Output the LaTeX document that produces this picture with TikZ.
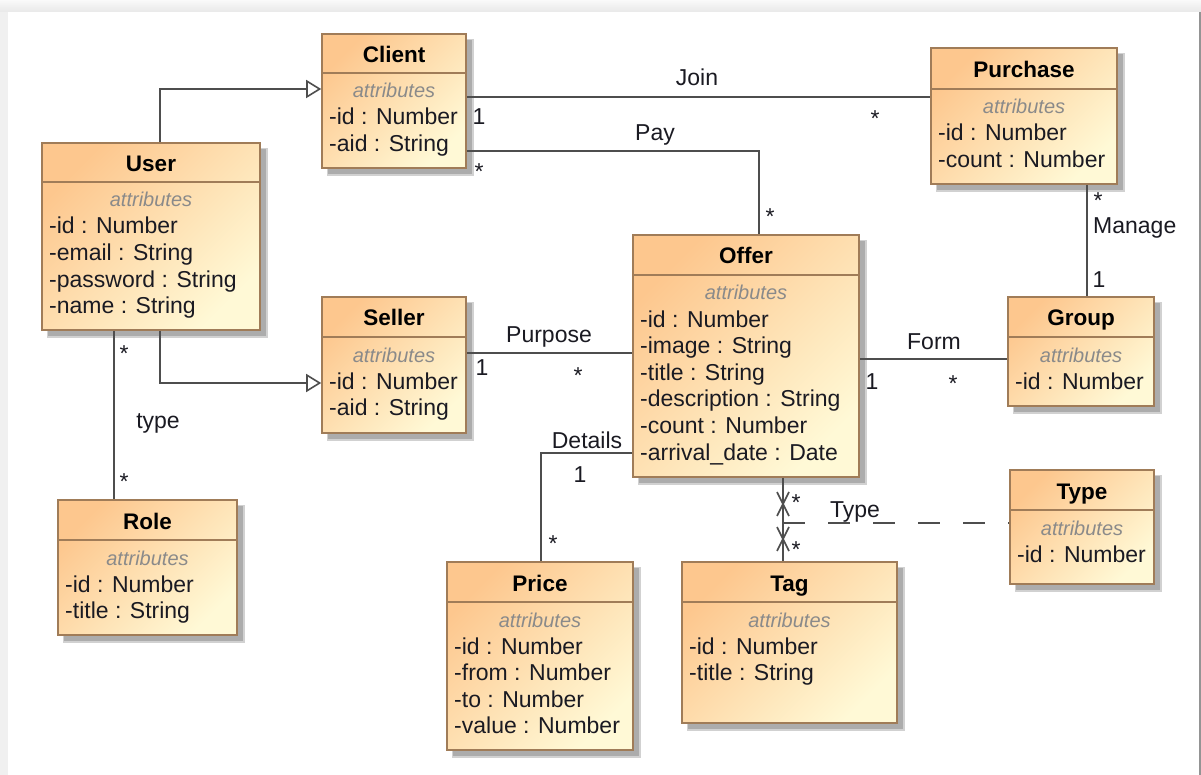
\documentclass[tikz,border=0pt]{standalone}
\usepackage{fontspec}
\setmainfont{Liberation Sans}
\usetikzlibrary{arrows.meta,fit}

\definecolor{boxA}{RGB}{253,199,142}
\definecolor{boxB}{RGB}{255,249,214}
\definecolor{boxline}{RGB}{160,124,88}
\definecolor{ink}{RGB}{26,26,34}
\definecolor{wire}{RGB}{78,78,78}
\definecolor{attrgray}{RGB}{138,138,138}
\definecolor{shadowc}{RGB}{172,172,172}

\tikzset{
  classbox/.style={draw=boxline, line width=1.6pt, top color=boxA, bottom color=boxB, shading angle=45, inner sep=0pt},
  sepline/.style={draw=boxline, line width=1.6pt},
  titletext/.style={inner sep=0pt, anchor=base, font=\fontsize{22.5}{27}\selectfont\bfseries, text=black},
  attrhead/.style={inner sep=0pt, anchor=base, font=\fontsize{20}{24}\selectfont\itshape, text=attrgray},
  attrtext/.style={inner sep=0pt, anchor=base west, font=\fontsize{23}{27}\selectfont, text=ink},
  lbl/.style={inner sep=0pt, anchor=base, font=\fontsize{23}{27}\selectfont, text=ink},
  wireline/.style={draw=wire, line width=1.6pt},
  genline/.style={wireline, -{Triangle[open, length=15pt, width=18pt, line width=1.6pt]}},
  dashwire/.style={wireline, dash pattern=on 22pt off 23pt},
}

% #1 name, #2 left, #3 top, #4 right, #5 bottom, #6 header rule, #7 title, #8 attributes
\newcommand\umlclass[8]{%
  \fill[shadowc!55] ({#2+5},{#3+5}) rectangle ({#4+8},{#5+8});
  \fill[shadowc] ({#2+6},{#3+6}) rectangle ({#4+6},{#5+6});
  \node[classbox, fit={(#2,#3) (#4,#5)}] (#1) {};
  \draw[sepline] (#2,#6) -- (#4,#6);
  \node[titletext] (#1-title) at ({(#2+#4)/2},{(#3+#6)/2+9}) {#7};
  \node[attrhead] (#1-head) at ({(#2+#4)/2},{#6+25}) {attributes};
  \foreach \attr [count=\k from 0] in {#8}
    \node[attrtext] (#1-a\k) at ({#2+7},{#6+52+26.6*\k}) {\attr};
}

\begin{document}
\begin{tikzpicture}[x=1pt, y=-1pt]
\useasboundingbox (0,0) rectangle (1201,775);

% canvas
\fill[black!6] (0,0) rectangle (1201,775);
\shade[top color=black!2, bottom color=black!9] (0,0) rectangle (1201,12);
\fill[white] (8,12) rectangle (1199,775);
\draw[black!42, line width=2pt] (1200,12) -- (1200,775);

% classes
\umlclass{client}{322}{34}{466}{168}{73}{Client}{-id : Number,-aid : String}
\umlclass{user}{42}{143}{260}{330}{182}{User}{-id : Number,-email : String,-password : String,-name : String}
\umlclass{purchase}{931}{48}{1117}{184}{89}{Purchase}{-id : Number,-count : Number}
\umlclass{seller}{322}{297}{466}{433}{337}{Seller}{-id : Number,-aid : String}
\umlclass{offer}{633}{235}{859}{477}{275}{Offer}{-id : Number,-image : String,-title : String,-description : String,-count : Number,-arrival\_date : Date}
\umlclass{group}{1008}{297}{1154}{406}{337}{Group}{-id : Number}
\umlclass{role}{58}{500}{237}{635}{540}{Role}{-id : Number,-title : String}
\umlclass{price}{447}{562}{633}{750}{602}{Price}{-id : Number,-from : Number,-to : Number,-value : Number}
\umlclass{tag}{682}{562}{897}{723}{602}{Tag}{-id : Number,-title : String}
\umlclass{type}{1010}{470}{1154}{584}{510}{Type}{-id : Number}

% routing guides
\coordinate (ux) at (160,0);
\coordinate (yuc) at (0,89);
\coordinate (yus) at (0,383);
\coordinate (rx) at (114,0);
\coordinate (yjoin) at (0,97);
\coordinate (ypay) at (0,151);
\coordinate (payx) at (759,0);
\coordinate (mx) at (1087,0);
\coordinate (ypur) at (0,353);
\coordinate (yform) at (0,359);
\coordinate (ydet) at (0,453);
\coordinate (detx) at (541,0);
\coordinate (tagx) at (783,0);
\coordinate (typemid) at (783,523);

% generalizations
\draw[genline] (user.north -| ux) |- (client.west |- yuc);
\draw[genline] (user.south -| ux) |- (seller.west |- yus);

% associations
\draw[wireline] (user.south -| rx) -- (role.north -| rx);
\draw[wireline] (client.east |- yjoin) -- (purchase.west |- yjoin);
\draw[wireline] (client.east |- ypay) -| (offer.north -| payx);
\draw[wireline] (purchase.south -| mx) -- (group.north -| mx);
\draw[wireline] (seller.east |- ypur) -- (offer.west |- ypur);
\draw[wireline] (offer.east |- yform) -- (group.west |- yform);
\draw[wireline] (offer.west |- ydet) -| (price.north -| detx);
\draw[wireline] (offer.south -| tagx) -- (tag.north -| tagx);
\draw[dashwire] (typemid) -- (type.west |- typemid);

% non-navigable end marks
\draw[wireline] (777,492) -- (789,516) (789,492) -- (777,516);
\draw[wireline] (777,527) -- (789,551) (789,527) -- (777,551);

% association names
\node[lbl] (lJoin) at (697,86) {Join};
\node[lbl] (lPay) at (655,141) {Pay};
\node[lbl, anchor=base west] (lManage) at (1093,234) {Manage};
\node[lbl] (lPurpose) at (549,342) {Purpose};
\node[lbl] (lForm) at (934,349) {Form};
\node[lbl] (lDetails) at (587,448) {Details};
\node[lbl] (ltype) at (158,428) {type};
\node[lbl] (lType) at (855,517) {Type};

% multiplicities
\node[lbl] (mJoinA) at (479,125) {1};
\node[lbl] (mJoinB) at (875,127) {*};
\node[lbl] (mPayA) at (479,180) {*};
\node[lbl] (mPayB) at (770,225) {*};
\node[lbl] (mManA) at (1098,209) {*};
\node[lbl] (mManB) at (1099,288) {1};
\node[lbl] (mPurA) at (482,375) {1};
\node[lbl] (mPurB) at (578,383) {*};
\node[lbl] (mFormA) at (872,389) {1};
\node[lbl] (mFormB) at (953,391) {*};
\node[lbl] (mDetA) at (580,482) {1};
\node[lbl] (mDetB) at (553,551) {*};
\node[lbl] (mRoleA) at (124,361) {*};
\node[lbl] (mRoleB) at (124,489) {*};
\node[lbl] (mTagA) at (796,510) {*};
\node[lbl] (mTagB) at (796,557) {*};
\end{tikzpicture}
\end{document}
